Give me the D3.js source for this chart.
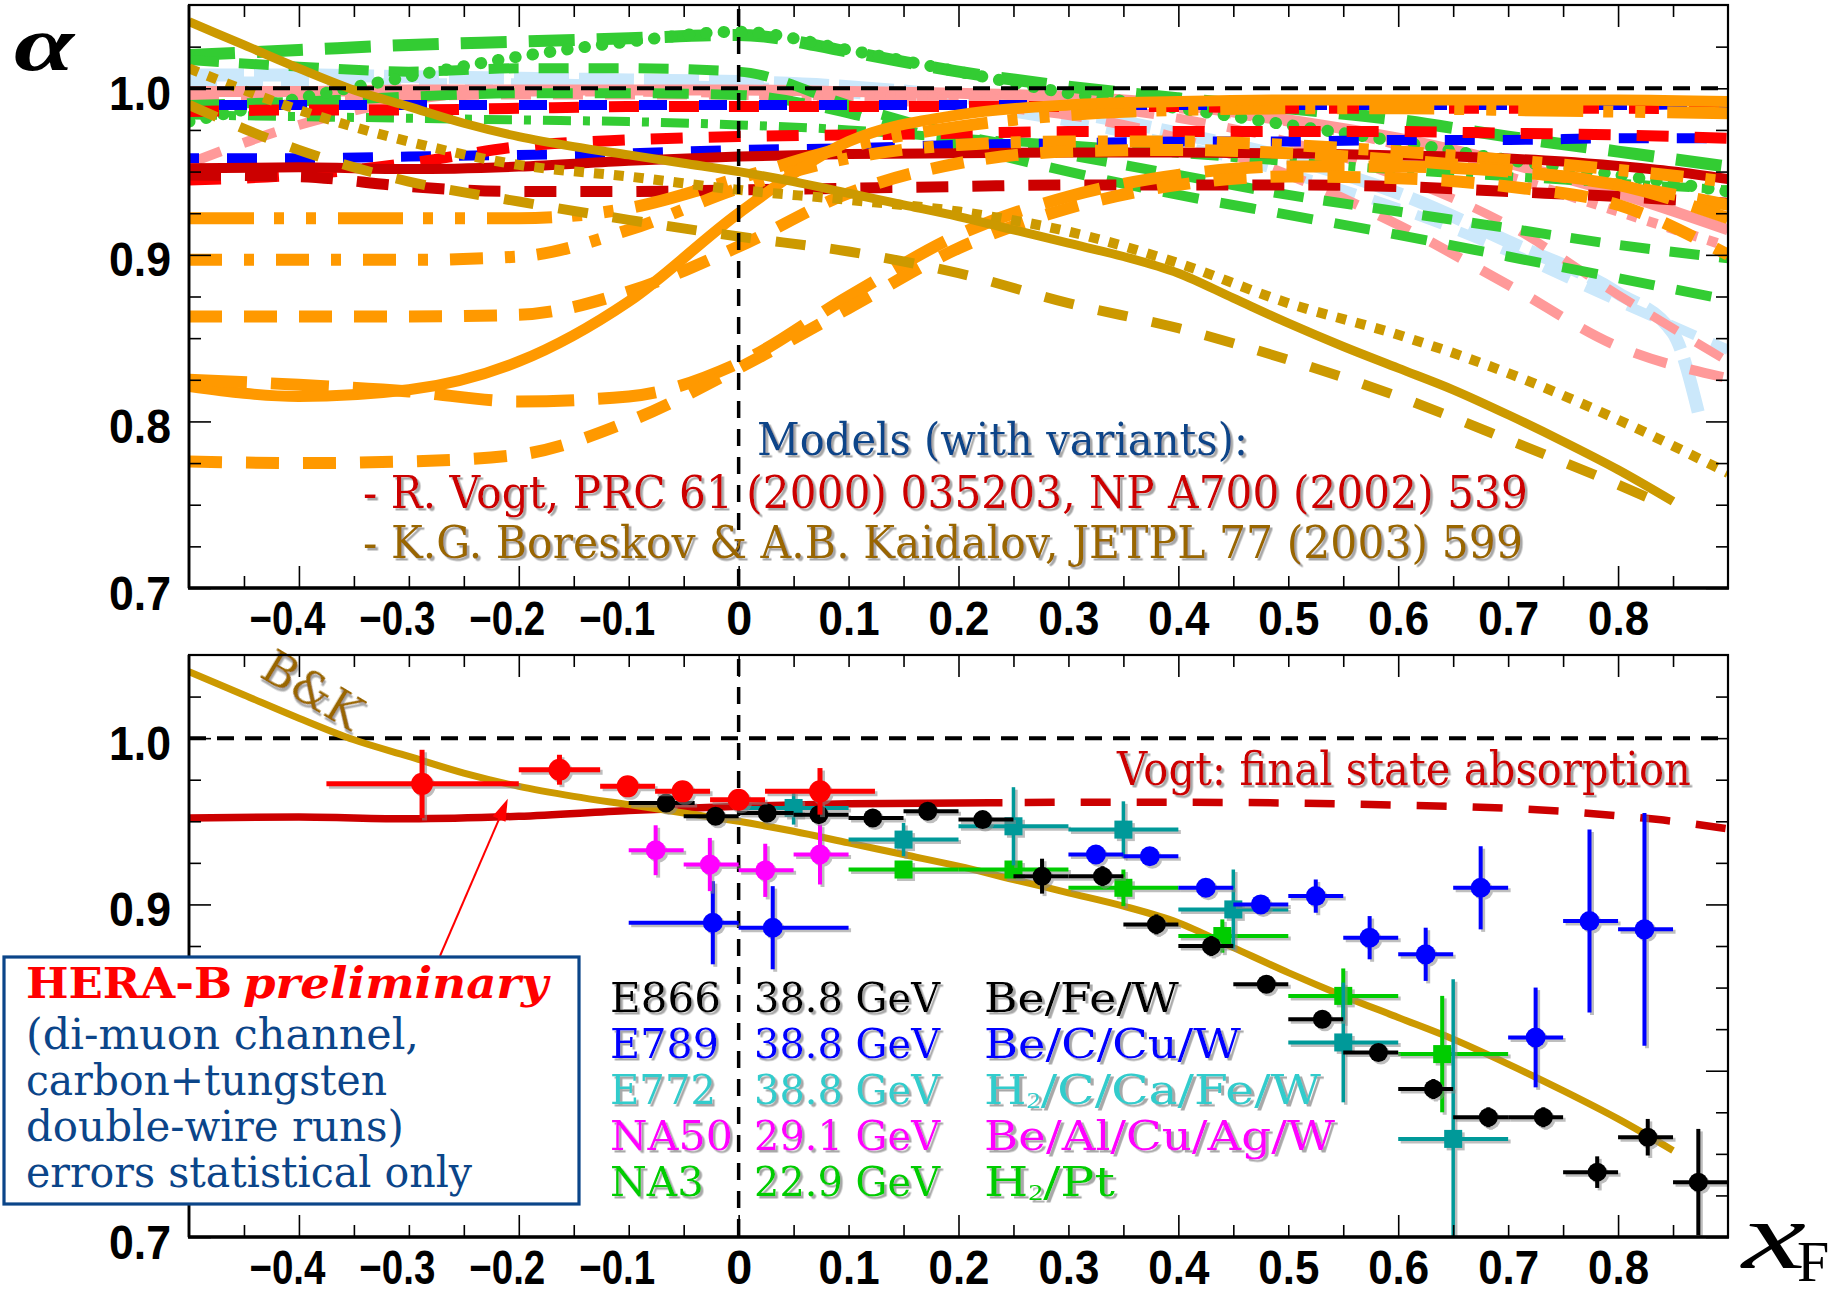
<!DOCTYPE html>
<html>
<head>
<meta charset="utf-8">
<script src="https://cdn.jsdelivr.net/npm/d3@7"></script>
<style>
  html, body { margin: 0; padding: 0; background: #fff; }
  svg { display: block; }
</style>
</head>
<body>
<svg id="chart" width="1843" height="1295"></svg>
<script>
// ---------------------------------------------------------------
// Nuclear dependence alpha(xF) of J/psi production: model curves
// (upper panel) and measurements (lower panel).
// ---------------------------------------------------------------

// common xF grid of the model calculations
const xsModel = [-0.5,-0.4,-0.3,-0.2,-0.1,0,0.1,0.2,0.3,0.4,0.5,0.6,0.7,0.8,0.9];

// Boreskov & Kaidalov: central curve and two variants
const bkX = [-0.5,-0.45,-0.4,-0.35,-0.3,-0.25,-0.2,-0.15,-0.1,-0.05,0,0.05,0.1,0.15,0.2,0.25,0.3,0.35,0.4,0.45,0.5,0.55,0.6,0.65,0.7,0.75,0.8,0.85];
const bkSolid = [1.040,1.026,1.012,0.999,0.989,0.979,0.971,0.965,0.960,0.955,0.950,0.944,0.937,0.930,0.923,0.915,0.907,0.899,0.889,0.874,0.859,0.845,0.832,0.819,0.804,0.788,0.771,0.752];
const bkDotted = [1.012,0.987,0.968,0.954,0.947,0.939,0.933,0.926,0.914,0.895,0.871,0.852,0.829,0.801,0.769];
const bkDashX = [-0.5,-0.4,-0.3,-0.2,-0.1,0,0.1,0.2,0.3,0.4,0.5,0.6,0.7,0.8,0.835];
const bkDashed = [0.990,0.963,0.944,0.932,0.921,0.911,0.902,0.889,0.871,0.856,0.837,0.815,0.789,0.762,0.752];

// Vogt: final state absorption (central curve)
const vogtFsX = [-0.5,-0.4,-0.3,-0.2,-0.1,0,0.1,0.2,0.3,0.4,0.5,0.6,0.65,0.7,0.75,0.8,0.85,0.9];
const vogtFs = [0.952,0.9526,0.9515,0.953,0.9565,0.959,0.9605,0.961,0.9614,0.9614,0.961,0.9597,0.959,0.9578,0.956,0.9533,0.950,0.9455];

// Vogt: variants (on xsModel unless stated)
const vogtGreenA = [1.020,1.023,1.026,1.028,1.030,1.032,1.022,1.010,1.001,0.994,0.988,0.981,0.971,0.962,0.953];
const vogtGreenB = [0.980,0.994,1.007,1.019,1.028,1.034,1.023,1.010,0.997,0.988,0.978,0.968,0.957,0.948,0.938];
const vogtGreenC = [1.017,1.013,1.010,1.012,1.012,1.010,0.990,0.972,0.960,0.948,0.936,0.926,0.916,0.906,0.898];
const vogtGreenD = [0.990,0.992,0.995,0.997,0.997,0.996,0.985,0.966,0.950,0.936,0.924,0.912,0.899,0.886,0.873];
const vogtGreenE = [0.984,0.983,0.982,0.981,0.980,0.978,0.975,0.970,0.966,0.961,0.956,0.951,0.947,0.943,0.939];
const vogtLightX = [-0.5,-0.4,-0.3,-0.2,-0.1,0,0.1,0.2,0.3,0.4,0.5,0.6,0.7,0.8,0.85,0.875];
const vogtLightA = [1.008,1.008,1.007,1.006,1.005,1.004,1.001,0.995,0.986,0.973,0.958,0.937,0.908,0.877,0.853,0.800];
const vogtLightB = [1.004,1.004,1.003,1.003,1.002,1.001,0.997,0.990,0.980,0.966,0.949,0.928,0.902,0.872,0.843];
const vogtPinkA = [0.998,0.998,0.999,0.999,0.999,0.999,0.998,0.997,0.995,0.990,0.981,0.970,0.955,0.937,0.915];
const vogtPinkB = [0.955,0.978,0.993,0.998,0.998,0.997,0.994,0.990,0.984,0.970,0.948,0.918,0.882,0.845,0.826];
const vogtPinkC = [0.993,0.994,0.995,0.996,0.996,0.996,0.995,0.993,0.990,0.982,0.968,0.947,0.918,0.876,0.836];
const vogtPinkD = [null,null,null,null,null,0.996,0.995,0.994,0.992,0.988,0.980,0.966,0.947,0.926,0.905];
const vogtBlueA = [0.990,0.990,0.990,0.990,0.990,0.990,0.990,0.990,0.990,0.990,0.990,0.990,0.990,0.990,0.991];
const vogtRedA = [0.986,0.987,0.987,0.988,0.989,0.989,0.989,0.989,0.989,0.989,0.988,0.988,0.988,0.988,0.987];
const vogtBlueB = [0.958,0.958,0.959,0.960,0.961,0.963,0.964,0.966,0.967,0.968,0.968,0.969,0.969,0.970,0.970];
const vogtRedB = [0.945,0.948,0.955,0.965,0.969,0.971,0.972,0.973,0.974,0.974,0.974,0.974,0.973,0.972,0.970];
const vogtDarkRedB = [0.948,0.947,0.941,0.938,0.938,0.939,0.940,0.941,0.942,0.942,0.942,0.941,0.938,0.935,0.931];
const vogtOrangeA = [0.922,0.922,0.922,0.922,0.928,0.946,0.965,0.977,0.984,0.987,0.988,0.988,0.987,0.986,0.985];
const vogtOrangeB = [0.897,0.897,0.897,0.899,0.915,0.940,0.958,0.966,0.968,0.968,0.966,0.962,0.957,0.951,0.944];
const vogtOrangeC = [0.863,0.863,0.863,0.864,0.878,0.905,0.937,0.955,0.962,0.963,0.961,0.957,0.951,0.942,0.930];
const vogtOrangeD = [0.821,0.815,0.819,0.836,0.872,0.925,0.968,0.984,0.990,0.992,0.993,0.993,0.993,0.993,0.992];
const vogtOrangeE = [0.825,0.822,0.818,0.812,0.815,0.835,0.875,0.912,0.935,0.948,0.953,0.953,0.950,0.942,0.922];
const vogtOrangeF = [0.776,0.775,0.776,0.780,0.800,0.832,0.868,0.904,0.928,0.942,0.947,0.946,0.941,0.930,0.900];

// HERA-B preliminary
const heraX = [-0.288,-0.163,-0.101,-0.051,0.0,0.074];
const heraY = [0.9725,0.981,0.971,0.968,0.963,0.968];
const heraXlo = [-0.375,-0.2,-0.126,-0.076,-0.026,0.024];
const heraXhi = [-0.2,-0.126,-0.076,-0.026,0.024,0.124];
const heraErr = [0.0205,0.009,0.005,0.005,0.005,0.014];

// E866
const e866X = [-0.066,-0.021,0.026,0.073,0.122,0.172,0.222,0.276,0.331,0.380,0.430,0.480,0.531,0.582,0.632,0.682,0.732,0.781,0.827,0.873];
const e866Y = [0.961,0.953,0.955,0.954,0.952,0.956,0.951,0.917,0.917,0.888,0.875,0.852,0.831,0.811,0.789,0.772,0.772,0.739,0.760,0.733];
const e866Xlo = [-0.1,-0.05,0.0,0.05,0.1,0.15,0.2,0.25,0.3,0.35,0.4,0.45,0.5,0.55,0.6,0.65,0.7,0.75,0.8,0.85];
const e866Xhi = [-0.04,0.0,0.05,0.1,0.15,0.2,0.25,0.3,0.35,0.4,0.45,0.5,0.55,0.6,0.65,0.7,0.75,0.8,0.85,0.9];
const e866Err = [0.005,0.005,0.004,0.004,0.004,0.004,0.004,0.0105,0.006,0.006,0.006,0.005,0.005,0.005,0.006,0.006,0.006,0.0095,0.011,0.032];

// E789
const e789X = [-0.0235,0.031,0.325,0.374,0.425,0.475,0.525,0.574,0.625,0.675,0.725,0.774,0.824];
const e789Y = [0.889,0.886,0.930,0.929,0.910,0.900,0.905,0.880,0.870,0.910,0.820,0.890,0.885];
const e789Xlo = [-0.1,0,0.3,0.35,0.4,0.45,0.5,0.55,0.6,0.65,0.7,0.75,0.8];
const e789Xhi = [0,0.1,0.35,0.4,0.45,0.5,0.55,0.6,0.65,0.7,0.75,0.8,0.85];
const e789Err = [0.025,0.025,0.004,0.004,0.004,0.004,0.010,0.013,0.016,0.025,0.030,0.055,0.070];

// E772
const e772X = [0.05,0.15,0.25,0.35,0.45,0.55,0.65];
const e772Y = [0.958,0.939,0.947,0.945,0.897,0.817,0.759];
const e772Xlo = [0,0.1,0.2,0.3,0.4,0.5,0.6];
const e772Xhi = [0.1,0.2,0.3,0.4,0.5,0.6,0.7];
const e772Err = [0.010,0.010,0.0235,0.017,0.024,0.036,0.096];

// NA50
const na50X = [-0.0755,-0.0262,0.0242,0.074];
const na50Y = [0.9326,0.924,0.9205,0.930];
const na50Xlo = [-0.1,-0.05,0,0.05];
const na50Xhi = [-0.05,0,0.05,0.1];
const na50Err = [0.015,0.016,0.016,0.018];

// NA3
const na3X = [0.15,0.25,0.35,0.44,0.55,0.64];
const na3Y = [0.921,0.921,0.910,0.881,0.845,0.810];
const na3Xlo = [0.1,0.2,0.3,0.4,0.5,0.6];
const na3Xhi = [0.2,0.3,0.4,0.5,0.6,0.7];
const na3Err = [0.004,0.004,0.011,0.010,0.0165,0.035];

// legend table
const legendExp = ['E866','E789','E772','NA50','NA3'];
const legendEnergy = ['38.8 GeV','38.8 GeV','38.8 GeV','29.1 GeV','22.9 GeV'];
const legendTargets = ['Be/Fe/W','Be/C/Cu/W','H2/C/Ca/Fe/W','Be/Al/Cu/Ag/W','H2/Pt'];

// axis ticks
const xLabelTicks = [-0.4,-0.3,-0.2,-0.1,0,0.1,0.2,0.3,0.4,0.5,0.6,0.7,0.8];
const xMajorTicks = [-0.4,-0.2,0,0.2,0.4,0.6,0.8];
const xMinorTicks = [-0.45,-0.35,-0.3,-0.25,-0.15,-0.1,-0.05,0.05,0.1,0.15,0.25,0.3,0.35,0.45,0.5,0.55,0.65,0.7,0.75,0.85];
const yMajorTicks = [0.7,0.8,0.9,1.0];
const yMinorTicks = [0.725,0.75,0.775,0.825,0.85,0.875,0.925,0.95,0.975,1.025];
const yLabelsTop = [0.7,0.8,0.9,1.0];
const yLabelsBottom = [0.7,0.9,1.0];   // 0.8 sits behind the HERA-B box

// ---------------------------------------------------------------
const SERIF = "'DejaVu Serif', 'Liberation Serif', serif";
const SANS = "'Liberation Sans', Arial, sans-serif";
const TIMES = "'Liberation Serif', 'Times New Roman', serif";
const C = {
  green: '#33cc33', light: '#cbe8fb', pink: '#ff9999', blue: '#0000ff',
  red: '#ff0000', darkred: '#cc0000', orange: '#ff9900', gold: '#cc9900',
  brown: '#996600', navy: '#0b4589', cyan: '#33cccc', teal: '#009999',
  magenta: '#ff00ff', nagreen: '#00cc00'
};

const svg = d3.select('#chart');
const L = 189, R = 1728;
const x = d3.scaleLinear().domain([-0.5, 0.9]).range([L, R]);
const yTop = d3.scaleLinear().domain([0.7, 1.05]).range([588, 5]);
const yBot = d3.scaleLinear().domain([0.7, 1.05]).range([1237, 655]);

const defs = svg.append('defs');
function clipRect(id, x0, y0, w, h) {
  defs.append('clipPath').attr('id', id).append('rect')
    .attr('x', x0).attr('y', y0).attr('width', w).attr('height', h);
}
clipRect('clipTop', L, 5, R - L, 583);
clipRect('clipBot', L, 655, R - L, 582);
clipRect('clipVogtSolid', L, 655, x(0.24) - L, 582);
clipRect('clipVogtDash', x(0.24), 655, R - x(0.24), 582);

// grey drop shadow used by the annotation texts
defs.append('filter').attr('id', 'shadow')
  .attr('x', '-5%').attr('y', '-20%').attr('width', '115%').attr('height', '150%')
  .append('feDropShadow').attr('dx', 2.5).attr('dy', 2.5).attr('stdDeviation', 0.4)
  .attr('flood-color', '#a8a8a8').attr('flood-opacity', 1);

function txt(parent, x0, y0, s, o) {
  const t = parent.append('text').attr('x', x0).attr('y', y0)
    .attr('font-family', o.font || SERIF).attr('font-size', o.size)
    .attr('fill', o.fill);
  if (o.weight) t.attr('font-weight', o.weight);
  if (o.italic) t.attr('font-style', 'italic');
  if (o.anchor) t.attr('text-anchor', o.anchor);
  if (o.len) t.attr('textLength', o.len).attr('lengthAdjust', 'spacingAndGlyphs');
  if (o.shadow) t.attr('filter', 'url(#shadow)');
  t.text(s);
  return t;
}

// ---------------- frames, ticks, labels ----------------
function drawAxes(y, yTopPx, yBotPx, yLabels) {
  const g = svg.append('g');
  const tickStyle = sel => sel.selectAll('line').attr('stroke', '#000').attr('stroke-width', 1.6);
  const clean = sel => { sel.select('.domain').remove(); sel.selectAll('text').remove(); };
  // x ticks (bottom and top), pointing inward
  [[d3.axisBottom, yBotPx], [d3.axisTop, yTopPx]].forEach(([ax, py]) => {
    g.append('g').attr('transform', `translate(0,${py})`)
      .call(ax(x).tickValues(xMinorTicks).tickSize(-12).tickFormat(''))
      .call(clean).call(tickStyle);
    g.append('g').attr('transform', `translate(0,${py})`)
      .call(ax(x).tickValues(xMajorTicks).tickSize(-22).tickFormat(''))
      .call(clean).call(tickStyle);
  });
  // y ticks (left and right), pointing inward
  [[d3.axisLeft, L], [d3.axisRight, R]].forEach(([ax, px]) => {
    g.append('g').attr('transform', `translate(${px},0)`)
      .call(ax(y).tickValues(yMinorTicks).tickSize(-12).tickFormat(''))
      .call(clean).call(tickStyle);
    g.append('g').attr('transform', `translate(${px},0)`)
      .call(ax(y).tickValues(yMajorTicks).tickSize(-22).tickFormat(''))
      .call(clean).call(tickStyle);
  });
  // frame
  g.append('rect').attr('x', L).attr('y', yTopPx).attr('width', R - L).attr('height', yBotPx - yTopPx)
    .attr('fill', 'none').attr('stroke', '#000').attr('stroke-width', 2.2);
  g.append('line').attr('x1', L - 1).attr('x2', R + 1).attr('y1', yBotPx).attr('y2', yBotPx)
    .attr('stroke', '#000').attr('stroke-width', 3.6);
  g.append('line').attr('x1', L).attr('x2', L).attr('y1', yTopPx).attr('y2', yBotPx)
    .attr('stroke', '#000').attr('stroke-width', 2.8);

  // y labels
  const yl = g.append('g').attr('transform', `translate(${L},0)`)
    .call(d3.axisLeft(y).tickValues(yLabels).tickSize(0).tickPadding(18).tickFormat(d3.format('.1f')));
  yl.select('.domain').remove();
  yl.selectAll('text').attr('font-family', SANS).attr('font-weight', 'bold').attr('font-size', 48)
    .attr('fill', '#000').attr('dy', '0.44em')
    .attr('textLength', 62).attr('lengthAdjust', 'spacingAndGlyphs');

  // x labels
  const xl = g.append('g').attr('transform', `translate(0,${yBotPx})`)
    .call(d3.axisBottom(x).tickValues(xLabelTicks).tickSize(0).tickPadding(13)
      .tickFormat(d => d === 0 ? '0' : d3.format('.1f')(d)));
  xl.select('.domain').remove();
  xl.selectAll('text').attr('font-family', SANS).attr('font-weight', 'bold').attr('font-size', 48)
    .attr('fill', '#000')
    .attr('dx', d => d < 0 ? -12 : 0)
    .attr('textLength', d => d === 0 ? 26 : (d < 0 ? 76 : 61))
    .attr('lengthAdjust', 'spacingAndGlyphs');
  return g;
}

// ---------------- upper panel: model curves ----------------
const topPanel = svg.append('g').attr('clip-path', 'url(#clipTop)');
const lineTop = d3.line().defined(d => d[1] != null)
  .x(d => x(d[0])).y(d => yTop(d[1])).curve(d3.curveMonotoneX);
const zipXY = (xs, ys) => xs.map((v, i) => [v, ys[i]]);

const modelCurves = [
  { xs: vogtLightX, ys: vogtLightA, color: C.light, w: 13, dash: '55,10' },
  { xs: xsModel, ys: vogtLightB, color: C.light, w: 10, dash: '28,18' },
  { xs: xsModel, ys: vogtPinkA, color: C.pink, w: 11, dash: null },
  { xs: xsModel, ys: vogtPinkB, color: C.pink, w: 10, dash: '34,24' },
  { xs: xsModel, ys: vogtPinkC, color: C.pink, w: 9, dash: '30,22' },
  { xs: xsModel, ys: vogtPinkD, color: C.pink, w: 10, dash: '10,11' },
  { xs: xsModel, ys: vogtGreenA, color: C.green, w: 12, dash: '46,22' },
  { xs: xsModel, ys: vogtGreenC, color: C.green, w: 10, dash: '30,20' },
  { xs: xsModel, ys: vogtGreenD, color: C.green, w: 10, dash: '36,22' },
  { xs: xsModel, ys: vogtGreenE, color: C.green, w: 9, dash: '28,12,7,12' },
  { xs: xsModel, ys: vogtGreenB, color: C.green, w: 12, dash: '0.5,17', cap: 'round' },
  { xs: xsModel, ys: vogtRedA, color: C.red, w: 11, dash: '30,30' },
  { xs: xsModel, ys: vogtBlueA, color: C.blue, w: 10, dash: '28,32', offset: 30 },
  { xs: xsModel, ys: vogtBlueB, color: C.blue, w: 10, dash: '30,28', offset: 20 },
  { xs: xsModel, ys: vogtRedB, color: C.red, w: 11, dash: '32,26' },
  { xs: xsModel, ys: vogtDarkRedB, color: C.darkred, w: 11, dash: '32,24' },
  { xs: vogtFsX, ys: vogtFs, color: C.darkred, w: 10, dash: null },
  { xs: xsModel, ys: vogtOrangeA, color: C.orange, w: 12, dash: '65,20,10,22,10,22' },
  { xs: xsModel, ys: vogtOrangeB, color: C.orange, w: 12, dash: '33,22,10,22' },
  { xs: xsModel, ys: vogtOrangeC, color: C.orange, w: 12, dash: '33,22' },
  { xs: xsModel, ys: vogtOrangeD, color: C.orange, w: 11, dash: null },
  { xs: xsModel, ys: vogtOrangeE, color: C.orange, w: 12, dash: '58,24' },
  { xs: xsModel, ys: vogtOrangeF, color: C.orange, w: 12, dash: '33,24' },
  { xs: bkDashX, ys: bkDashed, color: C.gold, w: 10, dash: '30,25' },
  { xs: xsModel, ys: bkDotted, color: C.gold, w: 10, dash: '10,10' },
  { xs: bkX, ys: bkSolid, color: C.gold, w: 9, dash: null }
];

topPanel.selectAll('path.model').data(modelCurves).join('path')
  .attr('class', 'model')
  .attr('d', c => lineTop(zipXY(c.xs, c.ys)))
  .attr('fill', 'none')
  .attr('stroke', c => c.color)
  .attr('stroke-width', c => c.w)
  .attr('stroke-linecap', c => c.cap || 'butt')
  .attr('stroke-dasharray', c => c.dash)
  .attr('stroke-dashoffset', c => c.offset || 0);

// reference lines alpha = 1 and xF = 0
function refLines(y, y0, y1) {
  const g = svg.append('g');
  g.append('line').attr('x1', L).attr('x2', R - 8).attr('y1', y(1.0)).attr('y2', y(1.0))
    .attr('stroke', '#000').attr('stroke-width', 4).attr('stroke-dasharray', '17,11');
  g.append('line').attr('x1', x(0)).attr('x2', x(0)).attr('y1', y0 + 4).attr('y2', y1)
    .attr('stroke', '#000').attr('stroke-width', 3.5).attr('stroke-dasharray', '17,11');
}
refLines(yTop, 5, 588);
drawAxes(yTop, 5, 588, yLabelsTop);

// model references
const tl = svg.append('g');
txt(tl, 757, 455, 'Models (with variants):', { size: 44, fill: C.navy, len: 491, shadow: true });
txt(tl, 363, 508, '- R. Vogt, PRC 61 (2000) 035203, NP A700 (2002) 539', { size: 44, fill: C.darkred, len: 1165, shadow: true });
txt(tl, 363, 558, '- K.G. Boreskov & A.B. Kaidalov, JETPL 77 (2003) 599', { size: 44, fill: C.brown, len: 1160, shadow: true });

// axis symbols
txt(svg, 14, 70, 'α', { font: TIMES, size: 78, fill: '#000', italic: true, weight: 'bold', len: 60 });
txt(svg, 1742, 1268, 'x', { font: TIMES, size: 96, fill: '#000', italic: true, len: 64 });
txt(svg, 1797, 1281, 'F', { font: TIMES, size: 58, fill: '#000' });

// ---------------- lower panel: measurements ----------------
refLines(yBot, 655, 1237);

const botPanel = svg.append('g').attr('clip-path', 'url(#clipBot)');
const lineBot = d3.line().x(d => x(d[0])).y(d => yBot(d[1])).curve(d3.curveMonotoneX);

// Vogt final-state absorption: solid up to xF = 0.24, dashed beyond
botPanel.append('path').attr('d', lineBot(zipXY(vogtFsX, vogtFs)))
  .attr('clip-path', 'url(#clipVogtSolid)')
  .attr('fill', 'none').attr('stroke', C.darkred).attr('stroke-width', 7.5);
botPanel.append('path').attr('d', lineBot(zipXY(vogtFsX, vogtFs)))
  .attr('clip-path', 'url(#clipVogtDash)')
  .attr('fill', 'none').attr('stroke', C.darkred).attr('stroke-width', 7.5)
  .attr('stroke-dasharray', '30,26').attr('stroke-dashoffset', 4);
// Boreskov & Kaidalov
botPanel.append('path').attr('d', lineBot(zipXY(bkX, bkSolid)))
  .attr('fill', 'none').attr('stroke', C.gold).attr('stroke-width', 7);

const series = [
  { xs: na3X, ys: na3Y, lo: na3Xlo, hi: na3Xhi, err: na3Err, color: C.nagreen, marker: 'square', r: 9, sw: 4, vsw: 4 },
  { xs: e772X, ys: e772Y, lo: e772Xlo, hi: e772Xhi, err: e772Err, color: C.teal, marker: 'square', r: 9, sw: 4, vsw: 3.5 },
  { xs: e789X, ys: e789Y, lo: e789Xlo, hi: e789Xhi, err: e789Err, color: C.blue, marker: 'circle', r: 10, sw: 4, vsw: 4 },
  { xs: na50X, ys: na50Y, lo: na50Xlo, hi: na50Xhi, err: na50Err, color: C.magenta, marker: 'circle', r: 10, sw: 4, vsw: 4 },
  { xs: e866X, ys: e866Y, lo: e866Xlo, hi: e866Xhi, err: e866Err, color: '#000', marker: 'circle', r: 9.5, sw: 4, vsw: 4 },
  { xs: heraX, ys: heraY, lo: heraXlo, hi: heraXhi, err: heraErr, color: C.red, marker: 'circle', r: 11, sw: 5, vsw: 5 }
];

function drawPoints(g, s, color) {
  const idx = s.xs.map((_, i) => i);
  g.selectAll(null).data(idx).join('line')
    .attr('x1', i => x(s.lo[i])).attr('x2', i => x(s.hi[i]))
    .attr('y1', i => yBot(s.ys[i])).attr('y2', i => yBot(s.ys[i]))
    .attr('stroke', color).attr('stroke-width', s.sw);
  g.selectAll(null).data(idx).join('line')
    .attr('x1', i => x(s.xs[i])).attr('x2', i => x(s.xs[i]))
    .attr('y1', i => yBot(s.ys[i] - s.err[i])).attr('y2', i => yBot(s.ys[i] + s.err[i]))
    .attr('stroke', color).attr('stroke-width', s.vsw);
  if (s.marker === 'circle') {
    g.selectAll(null).data(idx).join('circle')
      .attr('cx', i => x(s.xs[i])).attr('cy', i => yBot(s.ys[i])).attr('r', s.r)
      .attr('fill', color);
  } else {
    g.selectAll(null).data(idx).join('rect')
      .attr('x', i => x(s.xs[i]) - s.r).attr('y', i => yBot(s.ys[i]) - s.r)
      .attr('width', 2 * s.r).attr('height', 2 * s.r).attr('fill', color);
  }
}
series.forEach(s => {
  drawPoints(botPanel.append('g').attr('transform', 'translate(2.5,2.5)').attr('opacity', 0.55), s, '#8a8a8a');
  drawPoints(botPanel.append('g'), s, s.color);
});

// labels in the lower panel
const bl = svg.append('g');
txt(bl, 1117, 785, 'Vogt: final state absorption', { size: 46, fill: C.darkred, len: 574, shadow: true });
const bkLabel = bl.append('g').attr('transform', 'translate(258,676) rotate(31)');
txt(bkLabel, 0, 0, 'B&K', { size: 46, fill: C.brown, len: 108, shadow: true });

// experiment legend
const legColors = ['#000000', C.blue, C.cyan, C.magenta, C.nagreen];
const legExpWidth = [111, 109, 106, 123, 94];
const legTargetWidth = [195, 257, 337, 351, 131];
const legBase = 1012, legStep = 46;
function richText(parent, x0, y0, s, fill, width) {
  const t = parent.append('text').attr('x', x0).attr('y', y0)
    .attr('font-family', SERIF).attr('font-size', 41).attr('fill', fill)
    .attr('filter', 'url(#shadow)');
  const parts = s.split(/(?<=H)(\d)/);
  parts.forEach((p, k) => {
    if (k % 2 === 1) {
      t.append('tspan').attr('font-family', TIMES).attr('font-size', 24).attr('dy', 4).text(p);
    } else {
      const ts = t.append('tspan').text(p);
      if (k > 0) ts.attr('dy', -4);
    }
  });
  const w = t.node().getComputedTextLength();
  if (w > 0) t.attr('transform', `translate(${x0},0) scale(${width / w},1) translate(${-x0},0)`);
  return t;
}
legendExp.forEach((name, i) => {
  const yy = legBase + i * legStep;
  txt(bl, 610, yy, name, { size: 41, fill: legColors[i], len: legExpWidth[i], shadow: true });
  txt(bl, 754, yy, legendEnergy[i], { size: 41, fill: legColors[i], len: 186, shadow: true });
  richText(bl, 984, yy, legendTargets[i], legColors[i], legTargetWidth[i]);
});

// HERA-B box with arrow
const box = svg.append('g');
const ax0 = 440, ay0 = 956, ax1 = x(-0.21), ay1 = yBot(0.9635);
const ang = Math.atan2(ay1 - ay0, ax1 - ax0);
box.append('line').attr('x1', ax0).attr('y1', ay0)
  .attr('x2', ax1 - 18 * Math.cos(ang)).attr('y2', ay1 - 18 * Math.sin(ang))
  .attr('stroke', C.red).attr('stroke-width', 2);
box.append('path')
  .attr('d', d3.line()([
    [ax1, ay1],
    [ax1 - 22 * Math.cos(ang) + 7 * Math.sin(ang), ay1 - 22 * Math.sin(ang) - 7 * Math.cos(ang)],
    [ax1 - 22 * Math.cos(ang) - 7 * Math.sin(ang), ay1 - 22 * Math.sin(ang) + 7 * Math.cos(ang)]
  ]) + 'Z')
  .attr('fill', C.red);
box.append('rect').attr('x', 4).attr('y', 957).attr('width', 575).attr('height', 247)
  .attr('fill', '#fff').attr('stroke', C.navy).attr('stroke-width', 3.2);
txt(box, 26, 998, 'HERA-B', { size: 42, fill: C.red, weight: 'bold', len: 206 });
txt(box, 243, 998, 'preliminary', { size: 42, fill: C.red, weight: 'bold', italic: true, len: 305 });
txt(box, 26, 1049, '(di-muon channel,', { size: 42, fill: C.navy, len: 393 });
txt(box, 26, 1095, 'carbon+tungsten', { size: 42, fill: C.navy, len: 361 });
txt(box, 26, 1141, 'double-wire runs)', { size: 42, fill: C.navy, len: 378 });
txt(box, 26, 1187, 'errors statistical only', { size: 42, fill: C.navy, len: 446 });

drawAxes(yBot, 655, 1237, yLabelsBottom);
// keep the legend box above the lower-panel axes
box.raise();
</script>
</body>
</html>
